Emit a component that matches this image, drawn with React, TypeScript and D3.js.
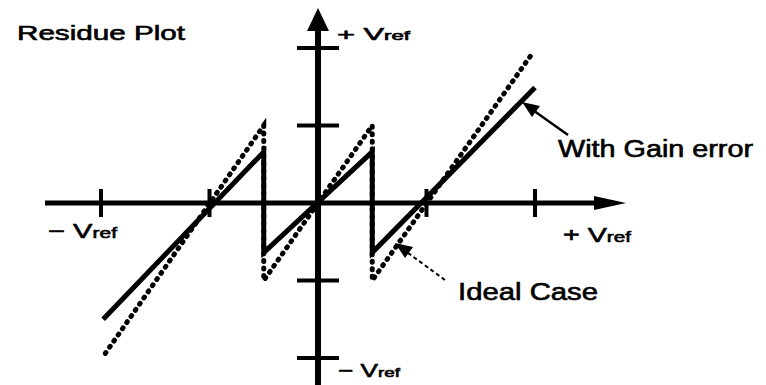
import React from "react";
import * as d3 from "d3";

// Input voltage / residue values in units of Vref
const idealVin = [-0.98, -0.25, -0.25, 0.25, 0.25, 0.99];
const idealRes = [-0.97, 0.5, -0.5, 0.5, -0.5, 0.97];

const gainVin = [-0.99, -0.25, -0.25, 0.25, 0.25, 1.0];
const gainRes = [-0.75, 0.33, -0.32, 0.33, -0.32, 0.745];

const xTickValues = [-1, -0.5, 0.5, 1];
const yTickValues = [-1, -0.5, 0.5, 1];

const W = 766;
const H = 385;
const FONT = "'Liberation Sans', Arial, Helvetica, sans-serif";

function VrefLabel({
  x,
  y,
  sign,
  size,
  width,
}: {
  x: number;
  y: number;
  sign: string;
  size: number;
  width: number;
}) {
  return (
    <text
      x={x}
      y={y}
      fontFamily={FONT}
      fontSize={size}
      fill="#000"
      stroke="#000"
      strokeWidth={0.6}
      textLength={width}
      lengthAdjust="spacingAndGlyphs"
    >
      <tspan>{sign + " V"}</tspan>
      <tspan fontSize={size * 0.72}>ref</tspan>
    </text>
  );
}

export default function App() {
  const x = d3.scaleLinear().domain([-1, 1]).range([101, 535]);
  const y = d3.scaleLinear().domain([-1, 1]).range([358, 48]);

  const pathOf = (vin: number[], res: number[]) =>
    d3
      .line<[number, number]>()
      .x((d) => x(d[0]))
      .y((d) => y(d[1]))(vin.map((v, i) => [v, res[i]])) ?? "";

  const idealPath = pathOf(idealVin, idealRes);
  const gainPath = pathOf(gainVin, gainRes);

  const x0 = x(0);
  const y0 = y(0);

  const textStyle = {
    fontFamily: FONT,
    fill: "#000",
    stroke: "#000",
    strokeWidth: 0.6,
  } as const;

  return (
    <div style={{ position: "fixed", left: 0, top: 0, width: W, height: H, background: "#fff" }}>
      <svg width={W} height={H} viewBox={`0 0 ${W} ${H}`} style={{ display: "block" }}>
        <rect width={W} height={H} fill="#fff" />

        {/* horizontal axis with arrow */}
        <line x1={45} x2={596} y1={y0} y2={y0} stroke="#000" strokeWidth={5} />
        <polygon points={`594,${y0 - 7} 626,${y0} 594,${y0 + 7}`} fill="#000" />

        {/* vertical axis with arrow */}
        <line x1={x0} x2={x0} y1={28} y2={H} stroke="#000" strokeWidth={6} />
        <polygon points={`${x0 - 11},31 ${x0},8 ${x0 + 11},31`} fill="#000" />

        {/* x ticks */}
        {xTickValues.map((v) => (
          <line
            key={"xt" + v}
            x1={x(v)}
            x2={x(v)}
            y1={y0 - 14}
            y2={y0 + 14}
            stroke="#000"
            strokeWidth={4}
          />
        ))}
        {/* y ticks */}
        {yTickValues.map((v) => (
          <line
            key={"yt" + v}
            x1={x0 - 21}
            x2={x0 + 21}
            y1={y(v)}
            y2={y(v)}
            stroke="#000"
            strokeWidth={4}
          />
        ))}

        {/* ideal residue (dotted) */}
        <path
          d={idealPath}
          fill="none"
          stroke="#000"
          strokeWidth={5}
          strokeLinecap="round"
          strokeDasharray="1 6.5"
        />
        {/* residue with gain error (solid) */}
        <path d={gainPath} fill="none" stroke="#000" strokeWidth={5} strokeLinejoin="miter" />

        {/* annotation arrows */}
        <line x1={568} y1={135} x2={530} y2={108} stroke="#000" strokeWidth={2.5} />
        <polygon points="522,102 540,106 532,117" fill="#000" />

        <line
          x1={445}
          y1={280}
          x2={404}
          y2={250}
          stroke="#000"
          strokeWidth={2}
          strokeDasharray="4 3"
        />
        <polygon points="395,243 413,247 405,258" fill="#000" />

        {/* labels */}
        <text x={17} y={40} fontSize={20} textLength={168} lengthAdjust="spacingAndGlyphs" {...textStyle}>
          Residue Plot
        </text>
        <text x={558} y={157} fontSize={23} textLength={195} lengthAdjust="spacingAndGlyphs" {...textStyle}>
          With Gain error
        </text>
        <text x={458} y={300} fontSize={23} textLength={140} lengthAdjust="spacingAndGlyphs" {...textStyle}>
          Ideal Case
        </text>

        <VrefLabel x={337} y={40} sign="+" size={17} width={73} />
        <VrefLabel x={48} y={238} sign="−" size={20} width={69} />
        <VrefLabel x={563} y={242} sign="+" size={20} width={68} />
        <VrefLabel x={338} y={377} sign="−" size={19} width={62} />
      </svg>
    </div>
  );
}
